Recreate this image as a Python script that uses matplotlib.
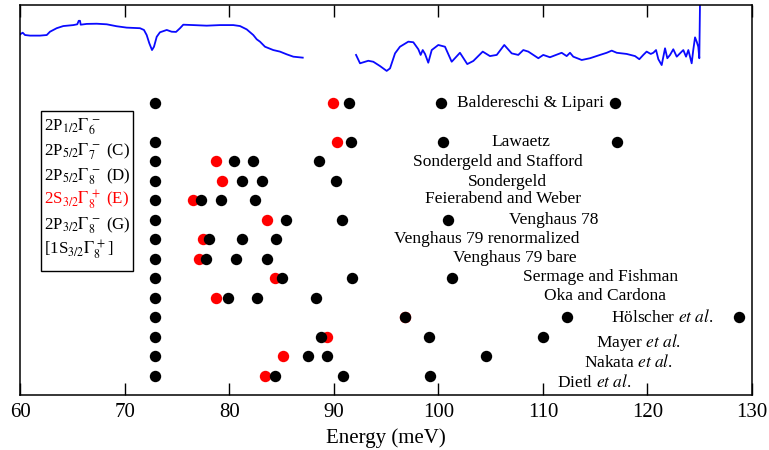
import matplotlib
matplotlib.use("Agg")
import matplotlib.pyplot as plt
from matplotlib.patches import Rectangle

plt.rcParams['font.family'] = ['Liberation Serif', 'DejaVu Serif']
plt.rcParams['mathtext.fontset'] = 'stix'

# ---------------- data ----------------
ref_labels = [
    "Baldereschi & Lipari", "Lawaetz", "Sondergeld and Stafford", "Sondergeld",
    "Feierabend and Weber", "Venghaus 78", "Venghaus 79 renormalized",
    "Venghaus 79 bare", "Sermage and Fishman", "Oka and Cardona",
    r"Hölscher $\mathit{et\ al}$.", r"Mayer $\mathit{et\ al}$.",
    r"Nakata $\mathit{et\ al}$.", r"Dietl $\mathit{et\ al}$.",
]
ref_rows = [15, 13, 12, 11, 10, 9, 8, 7, 6, 5, 4, 3, 2, 1]

# energy of the 2S3/2 Gamma8+ (E) line (red), meV
red_energy = [89.94, 90.30, 78.72, 79.33, 76.55, 83.60, 77.48, 77.13,
              84.34, 78.72, 96.80, 89.34, 85.13, 83.38]

# other transition energies (black), meV
black_energy = [
    [72.9, 91.45, 100.25, 116.90],
    [72.9, 91.67, 100.47, 117.13],
    [72.9, 80.47, 82.23, 88.61],
    [72.9, 81.18, 83.12, 90.20],
    [72.9, 77.29, 79.20, 82.42],
    [72.9, 85.39, 90.78, 100.95],
    [72.9, 78.08, 81.21, 84.43],
    [72.9, 77.74, 80.60, 83.63],
    [72.9, 85.01, 91.76, 101.27],
    [72.9, 79.84, 82.64, 88.26],
    [72.9, 96.80, 112.30, 128.75],
    [72.9, 88.80, 99.13, 110.00],
    [72.9, 87.55, 89.31, 104.55],
    [72.9, 84.40, 90.84, 99.20],
]

# absorption spectrum (two segments), energy in meV, intensity in plot units
spec1_energy = [60.00, 60.23, 60.45, 60.93, 61.88, 62.53, 62.84, 63.48, 64.11,
                65.07, 65.45, 65.59, 65.71, 65.78, 66.35, 67.31, 68.27, 69.22,
                70.18, 71.45, 71.83, 72.09, 72.34, 72.60, 72.79, 73.05, 73.36,
                74.01, 74.48, 74.90, 75.28, 75.59, 76.55, 77.83, 79.10, 80.38,
                81.02, 81.66, 82.29, 82.62, 82.93, 83.41, 84.20, 84.84, 85.49,
                86.12, 87.02]
spec1_signal = [18.50, 18.58, 18.46, 18.43, 18.43, 18.46, 18.63, 18.81, 18.92,
                18.97, 19.01, 19.19, 19.19, 18.99, 19.03, 19.04, 19.01, 18.91,
                18.84, 18.81, 18.72, 18.46, 18.04, 17.69, 17.86, 18.37, 18.60,
                18.72, 18.63, 18.62, 18.81, 18.99, 18.97, 18.94, 18.97, 18.97,
                18.92, 18.75, 18.46, 18.24, 18.12, 17.86, 17.69, 17.61, 17.47,
                17.35, 17.30]
spec2_energy = [92.12, 92.50, 93.29, 93.77, 94.41, 95.05, 95.37, 95.85, 96.32,
                97.12, 97.60, 98.08, 98.30, 98.50, 98.72, 99.03, 99.36, 99.99,
                100.63, 101.27, 102.06, 102.76, 103.34, 104.24, 104.93, 105.58,
                106.30, 107.01, 107.64, 108.12, 108.60, 109.08, 109.56, 110.03,
                110.67, 111.79, 112.27, 112.59, 112.90, 113.71, 114.50, 115.46,
                116.10, 116.58, 117.06, 118.01, 118.81, 119.22, 119.60, 119.92,
                120.31, 120.56, 120.82, 121.04, 121.36, 121.68, 121.90, 122.16,
                122.47, 122.80, 123.11, 123.43, 123.69, 123.91, 124.23, 124.38,
                124.55, 124.71, 124.86, 124.96, 125.03]
spec2_signal = [17.44, 17.01, 17.14, 17.09, 16.87, 16.62, 16.75, 17.52, 17.86,
                18.12, 18.09, 17.73, 17.44, 17.69, 17.49, 17.04, 17.69, 17.95,
                17.86, 17.09, 17.55, 16.97, 17.13, 17.61, 17.38, 17.44, 17.95,
                17.52, 17.44, 17.69, 17.61, 17.44, 17.27, 17.44, 17.32, 17.55,
                17.38, 17.55, 17.35, 17.18, 17.27, 17.44, 17.55, 17.66, 17.55,
                17.49, 17.38, 17.22, 17.44, 17.61, 17.49, 17.55, 17.69, 17.22,
                16.92, 17.78, 17.27, 17.44, 17.73, 17.35, 17.52, 17.69, 17.35,
                17.69, 17.01, 17.69, 18.34, 18.12, 17.86, 17.27, 20.30]

x_ticks = [60, 70, 80, 90, 100, 110, 120, 130]

legend_entries = [
    r"2P$_{1/2}\Gamma_6^{\,-}$",
    r"2P$_{5/2}\Gamma_7^{\,-}$ (C)",
    r"2P$_{5/2}\Gamma_8^{\,-}$ (D)",
    r"2S$_{3/2}\Gamma_8^{\,+}$ (E)",
    r"2P$_{3/2}\Gamma_8^{\,-}$ (G)",
    r"[1S$_{3/2}\Gamma_8^{\,+}$]",
]
legend_colors = ['black', 'black', 'black', 'red', 'black', 'black']

# label placement (layout only)
label_x = [108.81, 107.85, 105.70, 106.56, 106.18, 111.01, 104.65, 107.30,
           115.55, 115.97, 121.44, 119.17, 118.19, 114.93]
label_dy = [-0.05, 0.0, -0.05, -0.1, 0.05, 0.0, 0.0, 0.0,
            0.05, 0.1, 0.0, -0.3, -0.33, -0.37]

# ---------------- figure ----------------
W, H = 769, 450
fig = plt.figure(figsize=(W / 100, H / 100), dpi=100)
ax = fig.add_axes([20.3 / W, 55 / H, (752 - 20.3) / W, 390 / H])

ax.plot(spec1_energy, spec1_signal, color='#0a0aff', lw=1.3, zorder=2)
ax.plot(spec2_energy, spec2_signal, color='#0a0aff', lw=1.3, zorder=2,
        clip_on=True)

for row, e in zip(ref_rows, red_energy):
    ax.plot([e], [row], 'o', color='red', ms=8.2, mec='none', zorder=3)
for row, es in zip(ref_rows, black_energy):
    ax.plot(es, [row] * len(es), 'o', color='black', ms=8.2, mec='none',
            zorder=4)

for lab, lx, row, dy in zip(ref_labels, label_x, ref_rows, label_dy):
    ax.text(lx, row + dy, lab, ha='center', va='center', fontsize=12.5,
            zorder=5)

ax.set_xlim(60, 130)
ax.set_ylim(0, 20)
ax.set_xticks(x_ticks)
ax.set_yticks([])
ax.tick_params(axis='x', direction='in', length=8.6, width=1.0, top=True,
               labelsize=15, pad=6)
for s in ax.spines.values():
    s.set_linewidth(1.1)
ax.set_xlabel("Energy (meV)", fontsize=15, labelpad=4.5)

# legend box (figure pixel coordinates)
box = Rectangle((40.7 / W, 1 - 271 / H), (133.3 - 40.7) / W, (271 - 111) / H,
                transform=fig.transFigure, fill=False, edgecolor='black',
                lw=1.0, zorder=6)
fig.patches.append(box)
for i, (txt, c) in enumerate(zip(legend_entries, legend_colors)):
    ypx = 127 + i * 24.6
    fig.text(44 / W, 1 - ypx / H, txt, color=c, fontsize=12.2, ha='left',
             va='center')

fig.savefig("out.png", dpi=100)
